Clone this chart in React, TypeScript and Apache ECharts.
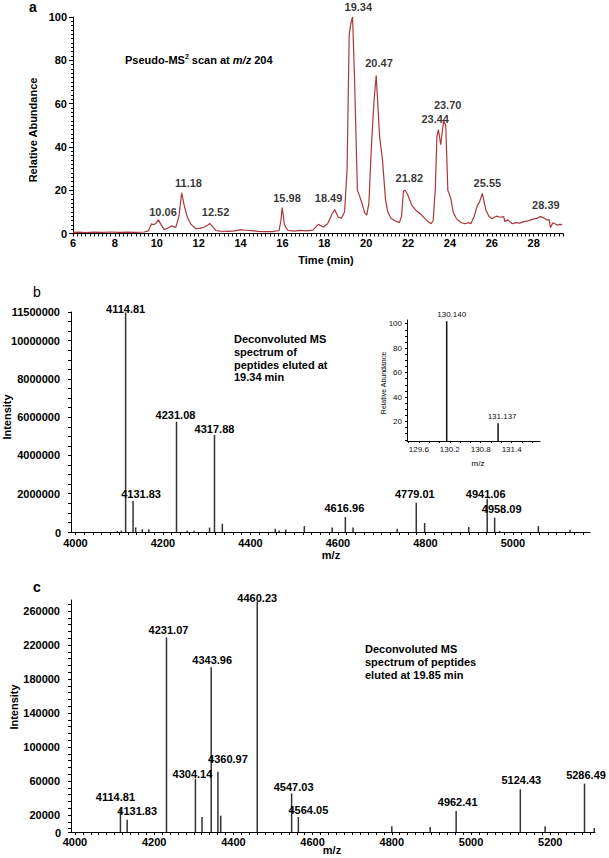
import React, { useEffect, useRef } from "react";
import * as echarts from "echarts";

const FONT = "'Liberation Sans', Arial, Helvetica, sans-serif";

// ---------- Panel a: pseudo-MS2 chromatogram ----------
const timeMin = [
  6.0, 6.3, 6.6, 7.0, 7.4, 7.8, 8.2, 8.6, 9.0, 9.4, 9.6, 9.75, 9.85, 9.95, 10.08, 10.21, 10.36, 10.51, 10.71, 10.91,
  11.06, 11.19, 11.31, 11.46, 11.64, 11.87, 12.07, 12.27, 12.42, 12.54, 12.67, 12.82, 13.03, 13.43, 13.73, 14.03, 14.23,
  14.54, 14.84, 15.14, 15.54, 15.84, 15.93, 15.99, 16.1, 16.25, 16.55, 16.85, 17.16, 17.46, 17.71, 17.96, 18.16, 18.37,
  18.5, 18.67, 18.82, 18.97, 19.09, 19.19, 19.27, 19.35, 19.45, 19.58, 19.68, 19.8, 19.93, 20.03, 20.13, 20.26, 20.38,
  20.48, 20.64, 20.78, 20.92, 21.03, 21.18, 21.39, 21.59, 21.69, 21.78, 21.86, 21.98, 22.18, 22.4, 22.6, 22.8, 22.95,
  23.1, 23.2, 23.3, 23.38, 23.45, 23.56, 23.7, 23.8, 23.9, 24.05, 24.15, 24.3, 24.5, 24.7, 24.9, 25.0, 25.16, 25.31,
  25.41, 25.55, 25.71, 25.86, 26.01, 26.21, 26.42, 26.57, 26.62, 26.77, 26.97, 27.13, 27.33, 27.53, 27.73, 27.93,
  28.13, 28.33, 28.53, 28.63, 28.74, 28.8, 28.92, 29.04, 29.14, 29.24, 29.36,
];
const relAbundance = [
  0.5, 0.6, 0.4, 0.6, 0.5, 0.7, 0.5, 0.6, 0.5, 0.7, 1.2, 4.5, 4.0, 4.6, 6.3, 4.0, 1.8, 2.4, 3.5, 2.8,
  8.0, 18.8, 13.0, 7.5, 4.2, 2.2, 2.4, 3.0, 3.8, 4.6, 3.2, 1.4, 1.1, 1.0, 1.2, 1.8, 1.5,
  1.3, 1.0, 0.9, 0.9, 1.4, 6.0, 12.0, 4.0, 1.5, 1.1, 1.4, 1.2, 1.6, 4.2, 3.0, 4.5, 9.0,
  11.0, 7.5, 7.0, 10.0, 30.0, 92.0, 97.0, 100.0, 70.0, 20.0, 17.5, 14.0, 9.5, 8.5, 14.0, 42.0, 62.0,
  73.0, 45.0, 34.0, 16.0, 10.0, 7.0, 5.8, 5.0, 8.0, 19.5, 20.0, 18.0, 13.0, 10.5, 9.0, 7.0, 5.5,
  4.5, 6.0, 20.0, 45.0, 48.0, 41.0, 52.0, 50.0, 20.0, 16.0, 10.0, 7.0, 5.2, 4.5, 5.0, 4.5, 8.0, 13.0,
  14.5, 18.5, 11.0, 8.0, 6.8, 8.0, 7.5, 7.8, 5.5, 6.3, 4.5, 5.0, 4.8, 5.5, 5.8, 6.5,
  7.0, 7.8, 7.0, 6.2, 6.4, 2.7, 5.0, 4.4, 3.8, 4.2, 4.1,
];
const peakLabelsA = ["10.06", "11.18", "12.52", "15.98", "18.49", "19.34", "20.47", "21.82", "23.44", "23.70", "25.55", "28.39"];
const peakHeightsA = [6.3, 18.8, 4.6, 12, 11, 100, 73, 20, 48, 52, 18.5, 7.8];
const xLabelsA = [6, 8, 10, 12, 14, 16, 18, 20, 22, 24, 26, 28];

// ---------- Panel b: deconvoluted spectrum at 19.34 min ----------
const mzB = [
  4096, 4105, 4114.81, 4131.83, 4137.8, 4153, 4168, 4231.08, 4255.4, 4271.3, 4306.6, 4317.88, 4335.8, 4456.9, 4465.7,
  4480.8, 4523.2, 4586.8, 4616.96, 4634.6, 4735.3, 4779.01, 4798.1, 4898.9, 4941.06, 4958.09, 4969.6, 5058.0, 5130.5,
];
const intensityB = [
  50000, 70000, 11480000, 1620000, 240000, 150000, 150000, 5770000, 60000, 60000, 230000, 5080000, 430000, 170000, 80000,
  130000, 310000, 230000, 780000, 230000, 170000, 1530000, 470000, 260000, 1740000, 750000, 60000, 310000, 120000,
];
const labeledB = ["4114.81", "4131.83", "4231.08", "4317.88", "4616.96", "4779.01", "4941.06", "4958.09"];
const xLabelsB = [4000, 4200, 4400, 4600, 4800, 5000];
const yLabelsB = [0, 2000000, 4000000, 6000000, 8000000, 10000000, 11500000];

// inset (reporter ions)
const mzInset = [130.14, 131.137];
const abundInset = [102, 18.5];
const xLabelsInset = [129.6, 130.2, 130.8, 131.4];
const yLabelsInset = [20, 40, 60, 80, 100];

// ---------- Panel c: deconvoluted spectrum at 19.85 min ----------
const mzC = [
  4114.81, 4131.83, 4231.07, 4304.14, 4320.8, 4343.96, 4360.97, 4368.0, 4460.23, 4547.03, 4564.05, 4800.0, 4897.0,
  4962.41, 5124.43, 5187.0, 5286.49, 5311.0,
];
const intensityC = [
  26300, 14500, 229000, 62700, 17600, 194000, 71000, 19200, 271000, 45500, 17600, 6700, 5900,
  24700, 50200, 6700, 56900, 4700,
];
const labeledC = ["4114.81", "4131.83", "4231.07", "4304.14", "4343.96", "4360.97", "4460.23", "4547.03", "4564.05", "4962.41", "5124.43", "5286.49"];
const xLabelsC = [4000, 4200, 4400, 4600, 4800, 5000, 5200];
const yLabelsC = [0, 20000, 60000, 100000, 140000, 180000, 220000, 260000];

// ---------- styling (label nudges, px) ----------
const offsetA: number[][] = [[5, -8], [7, -10], [6, -12], [5, -10], [-6, -12], [6, -10.5], [3, -12], [5, -12], [-3, -11], [4, -16], [5, -10], [4, -12]];
const offsetB: Record<string, number[]> = {
  "4114.81": [0, 7], "4131.83": [8, 3], "4231.08": [-1, 4], "4317.88": [0, 5],
  "4616.96": [-1, 1.5], "4779.01": [-1.5, 1.5], "4941.06": [-1.5, 5.5], "4958.09": [7, 2],
};
const offsetC: Record<string, number[]> = {
  "4114.81": [-5, -2.5], "4131.83": [10, 1.5], "4231.07": [2, 3.5], "4304.14": [-3, 5.5], "4343.96": [1, 3.5],
  "4360.97": [10, -2.5], "4460.23": [0, 6.5], "4547.03": [2, 4.5], "4564.05": [10, 3], "4962.41": [1.5, 1.5],
  "5124.43": [1, 1.5], "5286.49": [1.5, 1.5],
};
const offsetInset: number[][] = [[5, 2], [4, 2]];

function steps(start: number, end: number, step: number, dec: number) {
  const out: number[] = [];
  const n = Math.round((end - start) / step);
  for (let i = 0; i <= n; i++) out.push(Number((start + i * step).toFixed(dec)));
  return out;
}

const BLACK = "#000";
const axisLine = { show: true, onZero: false, lineStyle: { color: BLACK, width: 1 } };
const boldLabel = { fontSize: 11, fontWeight: "bold" as const, color: BLACK, fontFamily: FONT };
const smallLabel = { fontSize: 8, color: "#111", fontFamily: FONT };

function txt(text: string, x: number, y: number, size: number, weight: string, extra: any = {}) {
  return {
    type: "text",
    x,
    y,
    z: 100,
    ...extra,
    style: {
      text,
      fontSize: size,
      fontWeight: weight,
      fontFamily: FONT,
      fill: BLACK,
      textAlign: extra.align || "center",
      align: extra.align || "center",
      textVerticalAlign: extra.valign || "middle",
      verticalAlign: extra.valign || "middle",
      lineHeight: extra.lineHeight,
    },
  };
}

function buildOption() {
  const barLabel = { position: "top", formatter: "{b}", ...boldLabel };
  return {
    animation: false,
    backgroundColor: "#fff",
    textStyle: { fontFamily: FONT },
    grid: [
      { left: 73, top: 17, width: 490, height: 216.5, outerBoundsMode: "none" },
      { left: 71, top: 312, width: 519, height: 220, outerBoundsMode: "none" },
      { left: 407, top: 320, width: 133, height: 121, outerBoundsMode: "none" },
      { left: 71, top: 600, width: 524, height: 232, outerBoundsMode: "none" },
    ],
    xAxis: [
      {
        type: "value", gridIndex: 0, min: 6, max: 29.4,
        axisLine, splitLine: { show: false },
        axisTick: { show: true, length: 3, customValues: steps(6, 29.4, 0.2, 1), lineStyle: { color: BLACK } },
        axisLabel: { ...boldLabel, margin: 4, customValues: xLabelsA },
      },
      {
        type: "value", gridIndex: 1, min: 3990, max: 5176,
        axisLine, splitLine: { show: false },
        axisTick: { show: true, length: 3, customValues: steps(4000, 5160, 20, 0), lineStyle: { color: BLACK } },
        axisLabel: { ...boldLabel, margin: 5, customValues: xLabelsB, formatter: (v: number) => String(v) },
      },
      {
        type: "value", gridIndex: 2, min: 129.37, max: 131.95,
        axisLine, splitLine: { show: false },
        axisTick: { show: true, length: 2, customValues: steps(129.4, 131.8, 0.2, 1), lineStyle: { color: BLACK } },
        axisLabel: { ...smallLabel, margin: 4, customValues: xLabelsInset, formatter: (v: number) => v.toFixed(1) },
      },
      {
        type: "value", gridIndex: 3, min: 3990, max: 5313,
        axisLine, splitLine: { show: false },
        axisTick: { show: true, length: 3, customValues: steps(4000, 5300, 20, 0), lineStyle: { color: BLACK } },
        axisLabel: { ...boldLabel, margin: 4, customValues: xLabelsC, formatter: (v: number) => String(v) },
      },
    ],
    yAxis: [
      {
        type: "value", gridIndex: 0, min: 0, max: 100, interval: 20,
        axisLine, splitLine: { show: false },
        axisTick: { show: true, length: 4, lineStyle: { color: BLACK } },
        minorTick: { show: true, splitNumber: 10, length: 2, lineStyle: { color: BLACK } },
        axisLabel: { ...boldLabel, margin: 6 },
      },
      {
        type: "value", gridIndex: 1, min: 0, max: 11500000,
        axisLine, splitLine: { show: false },
        axisTick: { show: true, length: 3, customValues: steps(0, 11500000, 500000, 0), lineStyle: { color: BLACK } },
        axisLabel: { ...boldLabel, margin: 11, customValues: yLabelsB.filter((v) => v !== 0), formatter: (v: number) => String(v) },
      },
      {
        type: "value", gridIndex: 2, min: 4, max: 103,
        axisLine, splitLine: { show: false },
        axisTick: { show: true, length: 2, customValues: steps(5, 100, 5, 0), lineStyle: { color: BLACK } },
        axisLabel: { ...smallLabel, margin: 5, customValues: yLabelsInset },
      },
      {
        type: "value", gridIndex: 3, min: 0, max: 273000,
        axisLine, splitLine: { show: false },
        axisTick: { show: true, length: 3, customValues: [0, ...steps(4000, 268000, 8000, 0)], lineStyle: { color: BLACK } },
        axisLabel: { ...boldLabel, margin: 11, customValues: yLabelsC.filter((v) => v !== 0), formatter: (v: number) => String(v) },
      },
    ],
    series: [
      {
        type: "line", xAxisIndex: 0, yAxisIndex: 0, symbol: "none", clip: false,
        lineStyle: { color: "#a8383d", width: 1.2 },
        data: timeMin.map((t, i) => [t, relAbundance[i]]),
      },
      {
        type: "scatter", xAxisIndex: 0, yAxisIndex: 0, symbolSize: 1, silent: true,
        itemStyle: { color: "rgba(0,0,0,0)" },
        label: { show: true, position: "inside", formatter: "{b}", ...boldLabel },
        data: peakLabelsA.map((s, i) => ({ name: s, value: [parseFloat(s), peakHeightsA[i]], label: { offset: offsetA[i] } })),
      },
      {
        type: "bar", xAxisIndex: 1, yAxisIndex: 1, barWidth: 1.5,
        itemStyle: { color: "#333" }, label: barLabel,
        data: mzB.map((m, i) => {
          const name = m.toFixed(2);
          const show = labeledB.includes(name);
          return { name, value: [m, intensityB[i]], label: show ? { show: true, offset: offsetB[name] } : { show: false } };
        }),
      },
      {
        type: "bar", xAxisIndex: 2, yAxisIndex: 2, barWidth: 1.5,
        itemStyle: { color: "#111" },
        label: { show: true, position: "top", formatter: "{b}", ...smallLabel },
        data: mzInset.map((m, i) => ({ name: m.toFixed(3), value: [m, abundInset[i]], label: { offset: offsetInset[i] } })),
      },
      {
        type: "bar", xAxisIndex: 3, yAxisIndex: 3, barWidth: 1.5,
        itemStyle: { color: "#333" }, label: barLabel,
        data: mzC.map((m, i) => {
          const name = m.toFixed(2);
          const show = labeledC.includes(name);
          return { name, value: [m, intensityC[i]], label: show ? { show: true, offset: offsetC[name] } : { show: false } };
        }),
      },
    ],
    graphic: [
      txt("a", 33, 7, 14, "bold"),
      {
        type: "text", x: 125, y: 60, z: 100,
        style: {
          text: "{n|Pseudo-MS}{s|2}{n| scan at }{i|m/z}{n| 204}",
          textAlign: "left", align: "left", textVerticalAlign: "middle", verticalAlign: "middle",
          fill: BLACK,
          rich: {
            n: { fontSize: 11, fontWeight: "bold", fontFamily: FONT, fill: BLACK, lineHeight: 14 },
            s: { fontSize: 7, fontWeight: "bold", fontFamily: FONT, fill: BLACK, verticalAlign: "top", lineHeight: 14 },
            i: { fontSize: 11, fontWeight: "bold", fontStyle: "italic", fontFamily: FONT, fill: BLACK, lineHeight: 14 },
          },
        },
      },
      txt("Time (min)", 326, 260, 11, "bold"),
      txt("Relative Abundance", 33, 130, 11, "bold", { rotation: Math.PI / 2 }),
      txt("b", 37, 292, 14, "normal"),
      txt("Deconvoluted MS\nspectrum of\npeptides eluted at\n19.34 min", 234, 333, 11, "bold", { align: "left", valign: "top", lineHeight: 12.7 }),
      txt("Intensity", 7, 417, 11, "bold", { rotation: Math.PI / 2 }),
      txt("m/z", 331, 555, 11, "bold"),
      txt(String(yLabelsB[0]), 58, 533, 11, "bold"),
      txt("Relative Abundance", 383, 383, 7, "normal", { rotation: Math.PI / 2 }),
      txt("m/z", 478, 463, 8, "normal"),
      txt("c", 37, 587, 14, "bold"),
      txt("Deconvoluted MS\nspectrum of peptides\neluted at 19.85 min", 365, 642, 11, "bold", { align: "left", valign: "top", lineHeight: 13 }),
      txt("Intensity", 13.5, 707, 11, "bold", { rotation: Math.PI / 2 }),
      txt("m/z", 332, 850, 11, "bold"),
      txt(String(yLabelsC[0]), 58, 833, 11, "bold"),
    ],
  };
}

export default function App() {
  const ref = useRef<HTMLDivElement>(null);
  useEffect(() => {
    if (!ref.current) return;
    const chart = echarts.init(ref.current, null, { renderer: "svg" });
    chart.setOption(buildOption() as any);
    return () => chart.dispose();
  }, []);
  return (
    <div
      ref={ref}
      style={{ position: "fixed", left: 0, top: 0, width: 609, height: 858, background: "#fff" }}
    />
  );
}
